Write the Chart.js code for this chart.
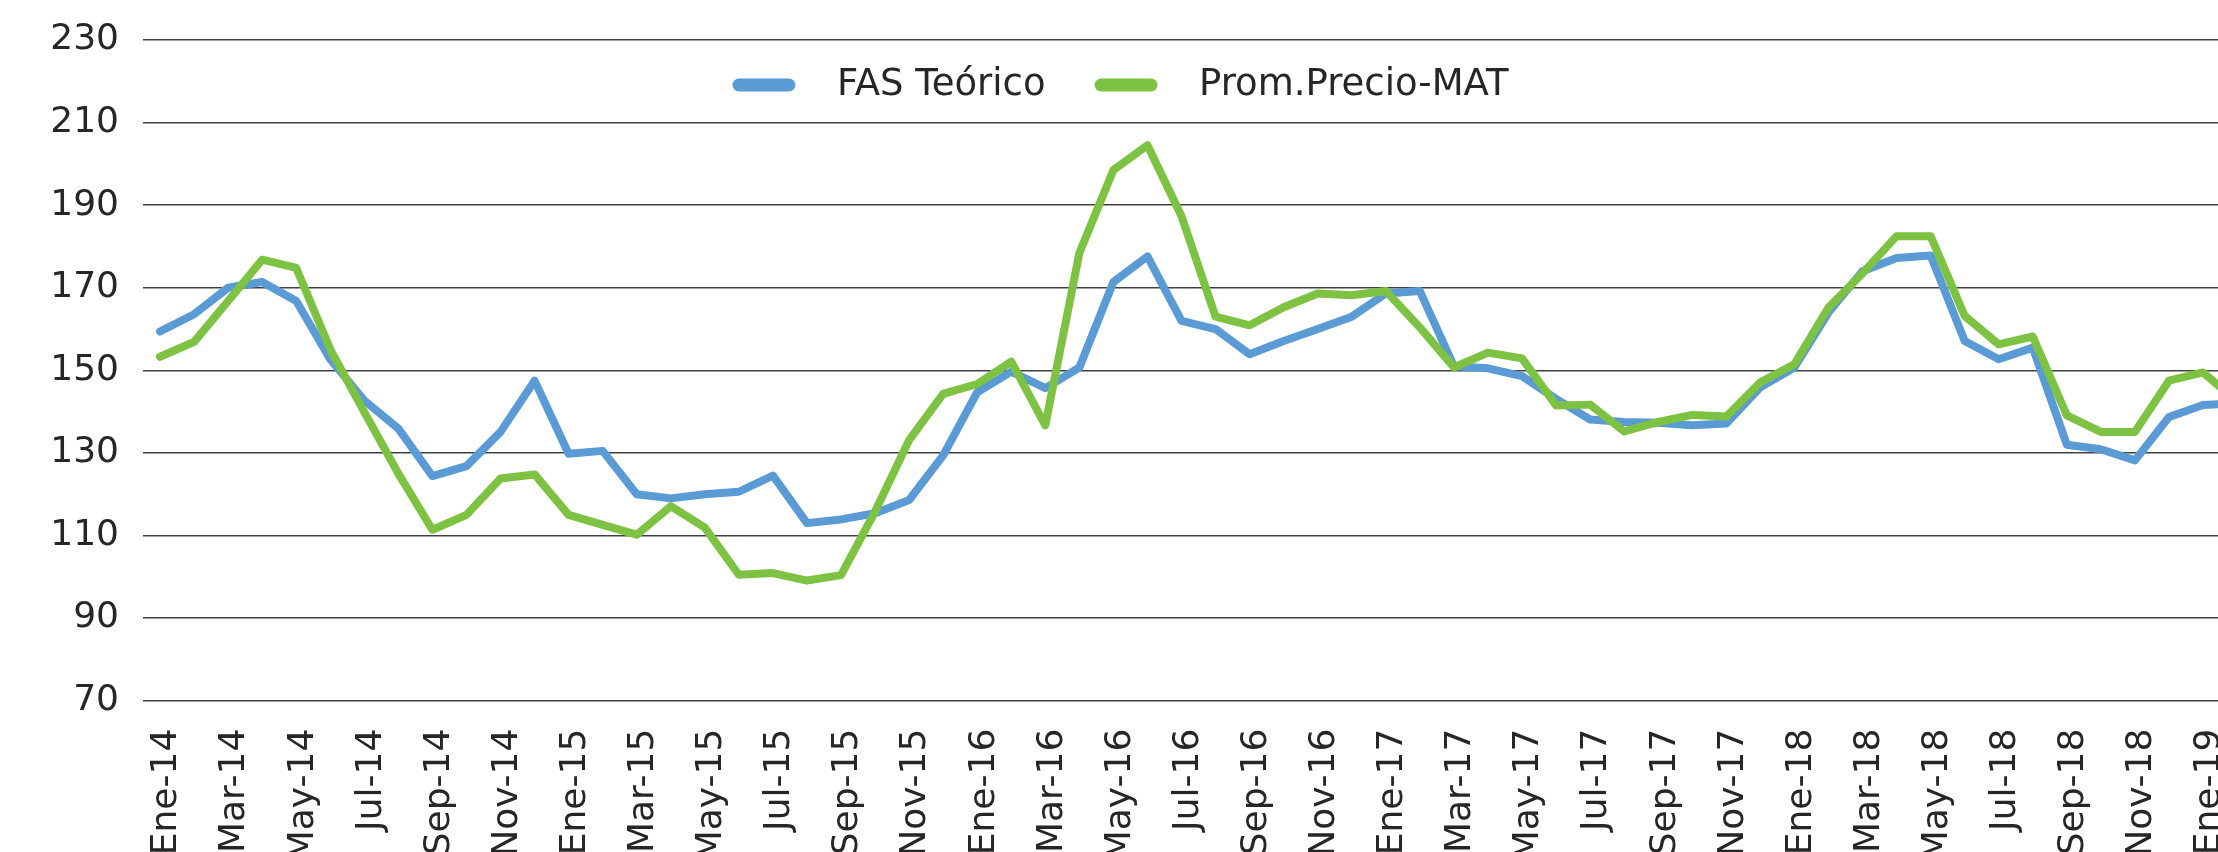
<!DOCTYPE html>
<html>
<head>
<meta charset="utf-8">
<title>FAS Teórico vs Prom.Precio-MAT</title>
<script src="https://cdn.jsdelivr.net/npm/chart.js@4.4.1/dist/chart.umd.min.js"></script>
<style>
  html, body { margin: 0; padding: 0; background: #fff; overflow: hidden; }
</style>
</head>
<body>
<canvas id="chart" width="2218" height="852"></canvas>
<script>
// monthly labels, Ene-14 .. Feb-19 (the last one falls just past the right edge)
const monthLabels = [
  'Ene-14', 'Feb-14', 'Mar-14', 'Abr-14', 'May-14', 'Jun-14', 'Jul-14', 'Ago-14', 'Sep-14', 'Oct-14', 'Nov-14', 'Dic-14',
  'Ene-15', 'Feb-15', 'Mar-15', 'Abr-15', 'May-15', 'Jun-15', 'Jul-15', 'Ago-15', 'Sep-15', 'Oct-15', 'Nov-15', 'Dic-15',
  'Ene-16', 'Feb-16', 'Mar-16', 'Abr-16', 'May-16', 'Jun-16', 'Jul-16', 'Ago-16', 'Sep-16', 'Oct-16', 'Nov-16', 'Dic-16',
  'Ene-17', 'Feb-17', 'Mar-17', 'Abr-17', 'May-17', 'Jun-17', 'Jul-17', 'Ago-17', 'Sep-17', 'Oct-17', 'Nov-17', 'Dic-17',
  'Ene-18', 'Feb-18', 'Mar-18', 'Abr-18', 'May-18', 'Jun-18', 'Jul-18', 'Ago-18', 'Sep-18', 'Oct-18', 'Nov-18', 'Dic-18',
  'Ene-19', 'Feb-19'
];

const fasTeorico = [
  159.4, 163.6, 170.0, 171.4, 166.8, 152.7, 142.7, 135.9, 124.4, 126.8, 135.1, 147.5,
  129.8, 130.5, 120.0, 119.0, 120.0, 120.6, 124.5, 113.0, 113.9, 115.4, 118.6, 129.4,
  144.7, 149.7, 145.7, 150.7, 171.4, 177.6, 162.0, 160.0, 153.9, 157.1, 160.0, 163.0,
  168.6, 169.2, 151.0, 150.5, 148.6, 143.1, 138.1, 137.5, 137.3, 136.7, 137.1, 145.9,
  150.7, 164.0, 174.0, 177.2, 177.8, 157.1, 152.7, 155.5, 132.0, 130.9, 128.2, 138.7,
  141.6, 142.0
];

const promPrecioMat = [
  153.3, 156.9, 166.8, 176.8, 174.8, 155.1, 139.9, 125.0, 111.4, 115.0, 123.8, 124.8,
  115.0, 112.6, 110.2, 117.1, 111.9, 100.5, 100.9, 99.1, 100.4, 115.8, 133.1, 144.3,
  146.7, 152.1, 136.7, 178.4, 198.5, 204.5, 187.3, 163.0, 160.9, 165.3, 168.6, 168.2,
  169.2, 160.4, 150.7, 154.3, 152.9, 141.5, 141.7, 135.2, 137.5, 139.2, 138.8, 147.1,
  151.5, 165.2, 173.5, 182.5, 182.5, 163.2, 156.3, 158.2, 139.1, 135.1, 135.1, 147.5,
  149.5, 142.5
];

const seriesNames = ['FAS Teórico', 'Prom.Precio-MAT'];
const seriesColors = ['#5B9BD5', '#7DC243'];

const FONT = "'DejaVu Sans', sans-serif";
const TEXT = '#262626';
const LEGEND_FONT = 37;
const LEGEND_PAD = 26;
const LEGEND_MIDDLE = 85; // y of the legend row's centre, inside the plot

function toPoints(values) {
  return values.map((v, i) => ({ x: i, y: v }));
}

function lineDataset(label, values, color, order) {
  return {
    label: label,
    data: toPoints(values),
    borderColor: color,
    backgroundColor: color,
    borderWidth: 8,
    tension: 0,
    borderJoinStyle: 'round',
    borderCapStyle: 'round',
    pointRadius: 0,
    pointHoverRadius: 0,
    order: order
  };
}

// short thick rounded stroke used as the legend marker
function legendSwatch(color) {
  const c = document.createElement('canvas');
  c.width = 64;
  c.height = 14;
  const g = c.getContext('2d');
  g.strokeStyle = color;
  g.lineWidth = 13;
  g.lineCap = 'round';
  g.beginPath();
  g.moveTo(7, 7);
  g.lineTo(57, 7);
  g.stroke();
  return c;
}

// legend sits inside the plot, between the 230 and 210 gridlines:
// it takes no room in the layout, and is moved over the plot once laid out
const legendOnPlot = {
  id: 'legendOnPlot',
  beforeLayout(chart) {
    const legend = chart.legend;
    if (legend && !legend._onPlot) {
      const fit = legend.fit;
      legend.fit = function () {
        fit.call(this);
        this._realHeight = this.height;
        this.height = 0;
      };
      legend._onPlot = true;
    }
  },
  afterLayout(chart) {
    const legend = chart.legend;
    if (legend && legend._realHeight) {
      legend.top = LEGEND_MIDDLE - LEGEND_PAD - LEGEND_FONT / 2;
      legend.height = legend._realHeight;
      legend.bottom = legend.top + legend._realHeight;
    }
  }
};

new Chart(document.getElementById('chart'), {
  type: 'line',
  data: {
    datasets: [
      lineDataset(seriesNames[0], fasTeorico, seriesColors[0], 1),
      lineDataset(seriesNames[1], promPrecioMat, seriesColors[1], 0)
    ]
  },
  options: {
    responsive: false,
    animation: false,
    layout: { padding: { top: 40, left: 0, right: 0, bottom: 0 } },
    plugins: {
      tooltip: { enabled: false },
      legend: {
        position: 'top',
        labels: {
          font: { family: FONT, size: LEGEND_FONT },
          color: TEXT,
          usePointStyle: true,
          pointStyleWidth: 109,
          padding: LEGEND_PAD,
          generateLabels(chart) {
            return chart.data.datasets.map((ds, i) => ({
              text: ds.label,
              datasetIndex: i,
              pointStyle: legendSwatch(ds.borderColor),
              strokeStyle: ds.borderColor,
              fillStyle: ds.borderColor,
              lineWidth: 0,
              fontColor: TEXT,
              hidden: false
            }));
          }
        }
      }
    },
    scales: {
      x: {
        type: 'linear',
        min: -0.5,
        max: 60.44,
        grid: { display: false, drawTicks: false },
        border: { display: false },
        afterBuildTicks(axis) {
          axis.ticks = monthLabels
            .map((_, i) => ({ value: i }))
            .filter(t => t.value % 2 === 0 && t.value <= 60);
        },
        ticks: {
          autoSkip: false,
          minRotation: 90,
          maxRotation: 90,
          padding: 28,
          labelOffset: 7,
          color: TEXT,
          font: { family: FONT, size: 36 },
          callback: v => monthLabels[v]
        },
        afterFit(axis) {
          axis.height = 151.3;
          axis.paddingLeft = 0;
          axis.paddingRight = 0;
        }
      },
      y: {
        min: 70,
        max: 230,
        grid: { color: '#404040', lineWidth: 1.5, drawTicks: false },
        border: { display: false },
        ticks: {
          stepSize: 20,
          padding: 24,
          color: TEXT,
          font: { family: FONT, size: 36 }
        },
        afterFit(axis) {
          axis.width = 143;
          axis.paddingTop = 0;
          axis.paddingBottom = 0;
        }
      }
    }
  },
  plugins: [legendOnPlot]
});
</script>
</body>
</html>
